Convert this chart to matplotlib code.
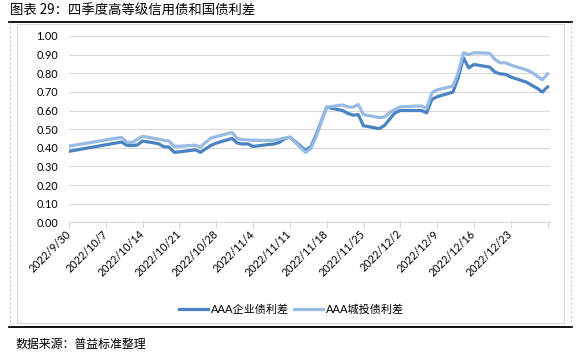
import matplotlib
matplotlib.use("Agg")
import matplotlib.pyplot as plt
import matplotlib.transforms as mtransforms
from matplotlib.lines import Line2D
import numpy as np
import pandas as pd

plt.rcParams["font.family"] = ["Noto Sans CJK SC", "DejaVu Sans"]

# trading days, Q4 2022
dates = [
    "2022-09-30", "2022-10-10", "2022-10-11", "2022-10-12", "2022-10-13", "2022-10-14",
    "2022-10-17", "2022-10-18", "2022-10-19", "2022-10-20", "2022-10-21",
    "2022-10-24", "2022-10-25", "2022-10-26", "2022-10-27", "2022-10-28",
    "2022-10-31", "2022-11-01", "2022-11-02", "2022-11-03", "2022-11-04",
    "2022-11-07", "2022-11-08", "2022-11-09", "2022-11-10", "2022-11-11",
    "2022-11-14", "2022-11-15", "2022-11-16", "2022-11-17", "2022-11-18",
    "2022-11-21", "2022-11-22", "2022-11-23", "2022-11-24", "2022-11-25",
    "2022-11-28", "2022-11-29", "2022-11-30", "2022-12-01", "2022-12-02",
    "2022-12-05", "2022-12-06", "2022-12-07", "2022-12-08", "2022-12-09",
    "2022-12-12", "2022-12-13", "2022-12-14", "2022-12-15", "2022-12-16",
    "2022-12-19", "2022-12-20", "2022-12-21", "2022-12-22", "2022-12-23",
    "2022-12-26", "2022-12-27", "2022-12-28", "2022-12-29", "2022-12-30",
]
corp_spread = [
    0.381, 0.431, 0.413, 0.412, 0.415, 0.436,
    0.422, 0.406, 0.404, 0.376, 0.378,
    0.389, 0.376, 0.395, 0.413, 0.425,
    0.450, 0.425, 0.420, 0.421, 0.407,
    0.418, 0.420, 0.429, 0.448, 0.457,
    0.386, 0.407, 0.470, 0.545, 0.618,
    0.600, 0.585, 0.575, 0.578, 0.518,
    0.503, 0.520, 0.555, 0.588, 0.600,
    0.600, 0.600, 0.588, 0.660, 0.674,
    0.699, 0.776, 0.883, 0.829, 0.847,
    0.833, 0.806, 0.797, 0.794, 0.780,
    0.752, 0.735, 0.720, 0.699, 0.727,
]
lgfv_spread = [
    0.409, 0.456, 0.430, 0.428, 0.445, 0.462,
    0.446, 0.440, 0.437, 0.408, 0.408,
    0.414, 0.404, 0.430, 0.452, 0.460,
    0.482, 0.450, 0.443, 0.443, 0.440,
    0.440, 0.440, 0.446, 0.452, 0.457,
    0.375, 0.398, 0.460, 0.540, 0.618,
    0.630, 0.620, 0.618, 0.632, 0.578,
    0.562, 0.565, 0.590, 0.606, 0.620,
    0.624, 0.624, 0.612, 0.695, 0.711,
    0.731, 0.803, 0.910, 0.900, 0.910,
    0.908, 0.874, 0.856, 0.856, 0.844,
    0.818, 0.805, 0.785, 0.765, 0.797,
]
tick_labels = ["2022/9/30", "2022/10/7", "2022/10/14", "2022/10/21", "2022/10/28",
               "2022/11/4", "2022/11/11", "2022/11/18", "2022/11/25", "2022/12/2",
               "2022/12/9", "2022/12/16", "2022/12/23", ""]
series_names = ["AAA企业债利差", "AAA城投债利差"]
title = "图表 29：四季度高等级信用债和国债利差"
source = "数据来源：普益标准整理"

W, H = 583, 352
d = pd.to_datetime(dates)
x = (d - d[0]).days.to_numpy()

fig = plt.figure(figsize=(W / 100, H / 100), dpi=100)
ax = fig.add_axes([69 / W, 1 - 222.3 / H, (549.7 - 69) / W, (222.3 - 36) / H])

dark, light = "#4A83C2", "#98BBE5"
ax.plot(x, corp_spread, color=dark, lw=2.3, label=series_names[0],
        solid_joinstyle="round")
ax.plot(x, lgfv_spread, color=light, lw=2.3, label=series_names[1],
        solid_joinstyle="round")

ax.set_xlim(0, 91.4)
ax.set_ylim(0, 1.0)
ax.set_yticks(np.arange(0, 1.01, 0.1))
ax.set_yticklabels([f"{v:.2f}" for v in np.arange(0, 1.01, 0.1)],
                   family=["Lato", "DejaVu Sans"], fontsize=7.8)
ax.set_xticks(np.arange(0, 92, 7))
ax.set_xticklabels(tick_labels, rotation=45, ha="right", va="center",
                   rotation_mode="anchor", family=["Lato", "DejaVu Sans"],
                   fontsize=7.8)
off = mtransforms.ScaledTranslation(8 / 100, -11 / 100, fig.dpi_scale_trans)
for lab in ax.get_xticklabels():
    lab.set_transform(lab.get_transform() + off)

ax.grid(axis="y", color="#D9D9D9", lw=0.8)
ax.set_axisbelow(True)
for s in ("top", "right", "left"):
    ax.spines[s].set_visible(False)
ax.spines["bottom"].set_color("#D9D9D9")
ax.spines["bottom"].set_linewidth(0.8)
ax.tick_params(axis="y", length=0, pad=8, colors="black")
ax.tick_params(axis="x", length=4, width=0.8, color="#D9D9D9", pad=3)

fig.legend(loc="center", bbox_to_anchor=(291.5 / W, 1 - 309 / H), ncol=2,
           frameon=False, handlelength=2.6, columnspacing=0.4, handletextpad=0.3,
           prop={"family": ["Lato", "Noto Sans CJK SC"], "size": 8})

# frame decorations
def fline(xs, ys, **kw):
    fig.add_artist(Line2D([v / W for v in xs], [1 - v / H for v in ys],
                          transform=fig.transFigure, **kw))

fline([9, 572], [21.5, 21.5], color="black", lw=1.3)
fline([9, 572], [326.7, 326.7], color="black", lw=1.3)
fline([10, 10], [22, 326], color="#C8C8C8", lw=0.8, ls=(0, (2, 2)))
fline([571, 571], [22, 326], color="#C8C8C8", lw=0.8, ls=(0, (2, 2)))
fline([17, 564, 564, 17, 17], [24, 24, 323, 323, 24], color="#D9D9D9", lw=0.8)

fig.text(10 / W, 1 - 11 / H, title, fontsize=9.6, va="center", ha="left")
fig.text(15 / W, 1 - 344 / H, source, fontsize=8.6, va="center", ha="left")

fig.savefig("out.png", dpi=100)
